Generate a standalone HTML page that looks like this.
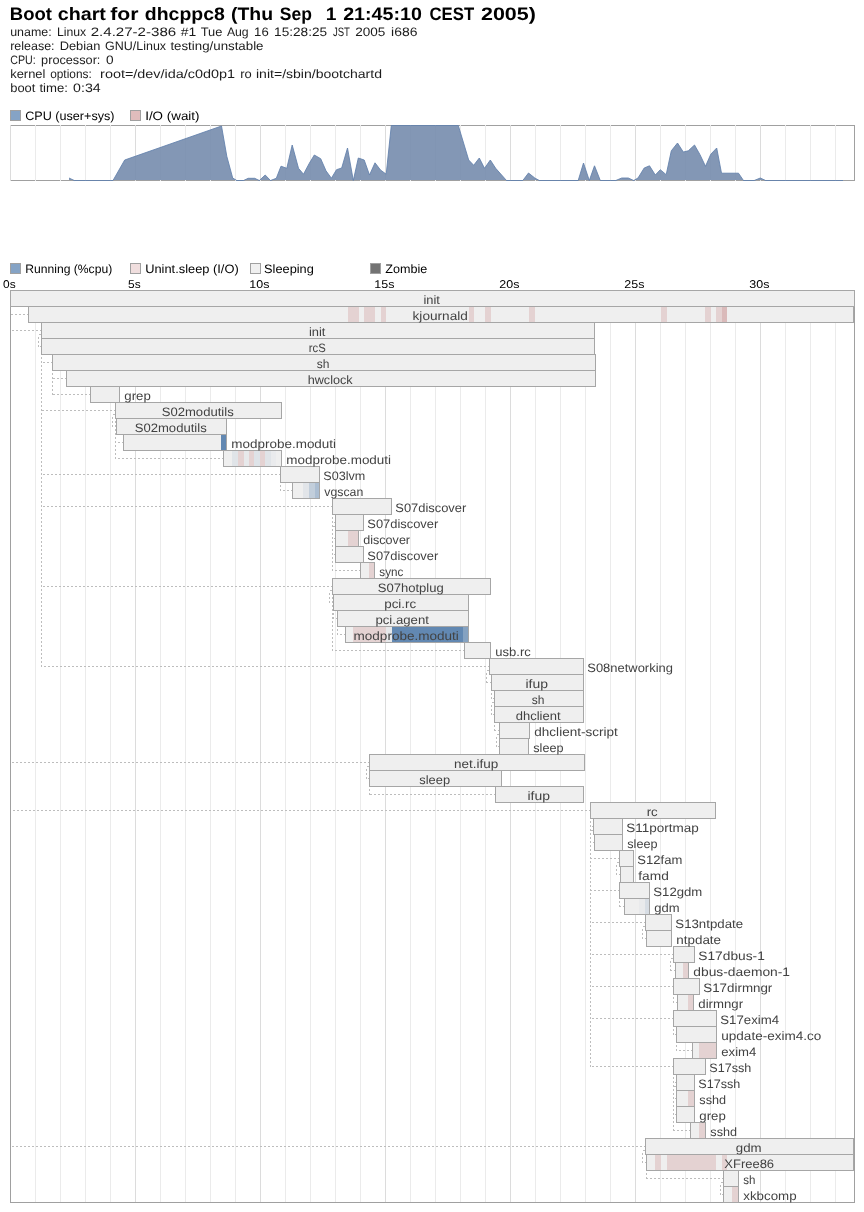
<!DOCTYPE html>
<html><head><meta charset="utf-8"><title>Boot chart</title>
<style>html,body{margin:0;padding:0;background:#fff;}svg{display:block;will-change:transform;}</style>
</head><body>
<svg width="864" height="1212" viewBox="0 0 864 1212" shape-rendering="crispEdges" text-rendering="geometricPrecision">
<rect x="0" y="0" width="864" height="1212" fill="#ffffff"/>
<text x="9.80" y="20.00" font-family='"Liberation Sans", sans-serif' font-size="18" font-weight="bold" fill="#000" text-anchor="start" textLength="42.10" lengthAdjust="spacingAndGlyphs" xml:space="preserve">Boot</text>
<text x="57.70" y="20.00" font-family='"Liberation Sans", sans-serif' font-size="18" font-weight="bold" fill="#000" text-anchor="start" textLength="48.20" lengthAdjust="spacingAndGlyphs" xml:space="preserve">chart</text>
<text x="110.30" y="20.00" font-family='"Liberation Sans", sans-serif' font-size="18" font-weight="bold" fill="#000" text-anchor="start" textLength="28.30" lengthAdjust="spacingAndGlyphs" xml:space="preserve">for</text>
<text x="144.80" y="20.00" font-family='"Liberation Sans", sans-serif' font-size="18" font-weight="bold" fill="#000" text-anchor="start" textLength="80.00" lengthAdjust="spacingAndGlyphs" xml:space="preserve">dhcppc8</text>
<text x="231.00" y="20.00" font-family='"Liberation Sans", sans-serif' font-size="18" font-weight="bold" fill="#000" text-anchor="start" textLength="42.10" lengthAdjust="spacingAndGlyphs" xml:space="preserve">(Thu</text>
<text x="279.80" y="20.00" font-family='"Liberation Sans", sans-serif' font-size="18" font-weight="bold" fill="#000" text-anchor="start" textLength="32.10" lengthAdjust="spacingAndGlyphs" xml:space="preserve">Sep</text>
<text x="325.70" y="20.00" font-family='"Liberation Sans", sans-serif' font-size="18" font-weight="bold" fill="#000" text-anchor="start" textLength="10.70" lengthAdjust="spacingAndGlyphs" xml:space="preserve">1</text>
<text x="343.20" y="20.00" font-family='"Liberation Sans", sans-serif' font-size="18" font-weight="bold" fill="#000" text-anchor="start" textLength="78.70" lengthAdjust="spacingAndGlyphs" xml:space="preserve">21:45:10</text>
<text x="429.50" y="20.00" font-family='"Liberation Sans", sans-serif' font-size="18" font-weight="bold" fill="#000" text-anchor="start" textLength="44.60" lengthAdjust="spacingAndGlyphs" xml:space="preserve">CEST</text>
<text x="481.00" y="20.00" font-family='"Liberation Sans", sans-serif' font-size="18" font-weight="bold" fill="#000" text-anchor="start" textLength="54.90" lengthAdjust="spacingAndGlyphs" xml:space="preserve">2005)</text>
<text x="10.20" y="36.00" font-family='"Liberation Sans", sans-serif' font-size="12.2" font-weight="normal" fill="#1c1c1c" text-anchor="start" textLength="41.50" lengthAdjust="spacingAndGlyphs" xml:space="preserve">uname:</text>
<text x="56.90" y="36.00" font-family='"Liberation Sans", sans-serif' font-size="12.2" font-weight="normal" fill="#1c1c1c" text-anchor="start" textLength="29.30" lengthAdjust="spacingAndGlyphs" xml:space="preserve">Linux</text>
<text x="90.70" y="36.00" font-family='"Liberation Sans", sans-serif' font-size="12.2" font-weight="normal" fill="#1c1c1c" text-anchor="start" textLength="85.50" lengthAdjust="spacingAndGlyphs" xml:space="preserve">2.4.27-2-386</text>
<text x="180.70" y="36.00" font-family='"Liberation Sans", sans-serif' font-size="12.2" font-weight="normal" fill="#1c1c1c" text-anchor="start" textLength="15.50" lengthAdjust="spacingAndGlyphs" xml:space="preserve">#1</text>
<text x="200.70" y="36.00" font-family='"Liberation Sans", sans-serif' font-size="12.2" font-weight="normal" fill="#1c1c1c" text-anchor="start" textLength="21.70" lengthAdjust="spacingAndGlyphs" xml:space="preserve">Tue</text>
<text x="226.90" y="36.00" font-family='"Liberation Sans", sans-serif' font-size="12.2" font-weight="normal" fill="#1c1c1c" text-anchor="start" textLength="21.80" lengthAdjust="spacingAndGlyphs" xml:space="preserve">Aug</text>
<text x="254.10" y="36.00" font-family='"Liberation Sans", sans-serif' font-size="12.2" font-weight="normal" fill="#1c1c1c" text-anchor="start" textLength="14.60" lengthAdjust="spacingAndGlyphs" xml:space="preserve">16</text>
<text x="274.10" y="36.00" font-family='"Liberation Sans", sans-serif' font-size="12.2" font-weight="normal" fill="#1c1c1c" text-anchor="start" textLength="53.00" lengthAdjust="spacingAndGlyphs" xml:space="preserve">15:28:25</text>
<text x="332.90" y="36.00" font-family='"Liberation Sans", sans-serif' font-size="12.2" font-weight="normal" fill="#1c1c1c" text-anchor="start" textLength="17.00" lengthAdjust="spacingAndGlyphs" xml:space="preserve">JST</text>
<text x="355.20" y="36.00" font-family='"Liberation Sans", sans-serif' font-size="12.2" font-weight="normal" fill="#1c1c1c" text-anchor="start" textLength="30.20" lengthAdjust="spacingAndGlyphs" xml:space="preserve">2005</text>
<text x="391.10" y="36.00" font-family='"Liberation Sans", sans-serif' font-size="12.2" font-weight="normal" fill="#1c1c1c" text-anchor="start" textLength="26.30" lengthAdjust="spacingAndGlyphs" xml:space="preserve">i686</text>
<text x="10.20" y="50.00" font-family='"Liberation Sans", sans-serif' font-size="12.2" font-weight="normal" fill="#1c1c1c" text-anchor="start" textLength="44.40" lengthAdjust="spacingAndGlyphs" xml:space="preserve">release:</text>
<text x="59.70" y="50.00" font-family='"Liberation Sans", sans-serif' font-size="12.2" font-weight="normal" fill="#1c1c1c" text-anchor="start" textLength="40.70" lengthAdjust="spacingAndGlyphs" xml:space="preserve">Debian</text>
<text x="105.10" y="50.00" font-family='"Liberation Sans", sans-serif' font-size="12.2" font-weight="normal" fill="#1c1c1c" text-anchor="start" textLength="61.00" lengthAdjust="spacingAndGlyphs" xml:space="preserve">GNU/Linux</text>
<text x="170.40" y="50.00" font-family='"Liberation Sans", sans-serif' font-size="12.2" font-weight="normal" fill="#1c1c1c" text-anchor="start" textLength="93.10" lengthAdjust="spacingAndGlyphs" xml:space="preserve">testing/unstable</text>
<text x="10.20" y="64.00" font-family='"Liberation Sans", sans-serif' font-size="12.2" font-weight="normal" fill="#1c1c1c" text-anchor="start" textLength="25.50" lengthAdjust="spacingAndGlyphs" xml:space="preserve">CPU:</text>
<text x="41.10" y="64.00" font-family='"Liberation Sans", sans-serif' font-size="12.2" font-weight="normal" fill="#1c1c1c" text-anchor="start" textLength="59.30" lengthAdjust="spacingAndGlyphs" xml:space="preserve">processor:</text>
<text x="106.10" y="64.00" font-family='"Liberation Sans", sans-serif' font-size="12.2" font-weight="normal" fill="#1c1c1c" text-anchor="start" textLength="7.60" lengthAdjust="spacingAndGlyphs" xml:space="preserve">0</text>
<text x="10.20" y="78.00" font-family='"Liberation Sans", sans-serif' font-size="12.2" font-weight="normal" fill="#1c1c1c" text-anchor="start" textLength="35.20" lengthAdjust="spacingAndGlyphs" xml:space="preserve">kernel</text>
<text x="50.20" y="78.00" font-family='"Liberation Sans", sans-serif' font-size="12.2" font-weight="normal" fill="#1c1c1c" text-anchor="start" textLength="41.50" lengthAdjust="spacingAndGlyphs" xml:space="preserve">options:</text>
<text x="100.10" y="78.00" font-family='"Liberation Sans", sans-serif' font-size="12.2" font-weight="normal" fill="#1c1c1c" text-anchor="start" textLength="135.00" lengthAdjust="spacingAndGlyphs" xml:space="preserve">root=/dev/ida/c0d0p1</text>
<text x="240.20" y="78.00" font-family='"Liberation Sans", sans-serif' font-size="12.2" font-weight="normal" fill="#1c1c1c" text-anchor="start" textLength="11.50" lengthAdjust="spacingAndGlyphs" xml:space="preserve">ro</text>
<text x="256.00" y="78.00" font-family='"Liberation Sans", sans-serif' font-size="12.2" font-weight="normal" fill="#1c1c1c" text-anchor="start" textLength="126.00" lengthAdjust="spacingAndGlyphs" xml:space="preserve">init=/sbin/bootchartd</text>
<text x="10.20" y="92.00" font-family='"Liberation Sans", sans-serif' font-size="12.2" font-weight="normal" fill="#1c1c1c" text-anchor="start" textLength="25.20" lengthAdjust="spacingAndGlyphs" xml:space="preserve">boot</text>
<text x="39.40" y="92.00" font-family='"Liberation Sans", sans-serif' font-size="12.2" font-weight="normal" fill="#1c1c1c" text-anchor="start" textLength="28.50" lengthAdjust="spacingAndGlyphs" xml:space="preserve">time:</text>
<text x="73.10" y="92.00" font-family='"Liberation Sans", sans-serif' font-size="12.2" font-weight="normal" fill="#1c1c1c" text-anchor="start" textLength="27.60" lengthAdjust="spacingAndGlyphs" xml:space="preserve">0:34</text>
<rect x="10.5" y="110.5" width="10" height="10" fill="#85a3c5" stroke="#a0a0a0" stroke-width="1"/>
<text x="25.20" y="119.50" font-family='"Liberation Sans", sans-serif' font-size="12.2" font-weight="normal" fill="#000" text-anchor="start" textLength="89.30" lengthAdjust="spacingAndGlyphs" xml:space="preserve">CPU (user+sys)</text>
<rect x="130.5" y="110.5" width="10" height="10" fill="#e0bcbc" stroke="#a0a0a0" stroke-width="1"/>
<text x="145.20" y="119.50" font-family='"Liberation Sans", sans-serif' font-size="12.2" font-weight="normal" fill="#000" text-anchor="start" textLength="54.30" lengthAdjust="spacingAndGlyphs" xml:space="preserve">I/O (wait)</text>
<rect x="10.5" y="125.5" width="844.0" height="55" fill="none" stroke="#a0a0a0" stroke-width="1"/>
<line x1="10.5" y1="125.0" x2="10.5" y2="181.0" stroke="#dcdcdc" stroke-width="1"/>
<line x1="35.5" y1="125.0" x2="35.5" y2="181.0" stroke="#ebebeb" stroke-width="1"/>
<line x1="60.5" y1="125.0" x2="60.5" y2="181.0" stroke="#ebebeb" stroke-width="1"/>
<line x1="85.5" y1="125.0" x2="85.5" y2="181.0" stroke="#ebebeb" stroke-width="1"/>
<line x1="110.5" y1="125.0" x2="110.5" y2="181.0" stroke="#ebebeb" stroke-width="1"/>
<line x1="135.5" y1="125.0" x2="135.5" y2="181.0" stroke="#dcdcdc" stroke-width="1"/>
<line x1="160.5" y1="125.0" x2="160.5" y2="181.0" stroke="#ebebeb" stroke-width="1"/>
<line x1="185.5" y1="125.0" x2="185.5" y2="181.0" stroke="#ebebeb" stroke-width="1"/>
<line x1="210.5" y1="125.0" x2="210.5" y2="181.0" stroke="#ebebeb" stroke-width="1"/>
<line x1="235.5" y1="125.0" x2="235.5" y2="181.0" stroke="#ebebeb" stroke-width="1"/>
<line x1="260.5" y1="125.0" x2="260.5" y2="181.0" stroke="#dcdcdc" stroke-width="1"/>
<line x1="285.5" y1="125.0" x2="285.5" y2="181.0" stroke="#ebebeb" stroke-width="1"/>
<line x1="310.5" y1="125.0" x2="310.5" y2="181.0" stroke="#ebebeb" stroke-width="1"/>
<line x1="335.5" y1="125.0" x2="335.5" y2="181.0" stroke="#ebebeb" stroke-width="1"/>
<line x1="360.5" y1="125.0" x2="360.5" y2="181.0" stroke="#ebebeb" stroke-width="1"/>
<line x1="385.5" y1="125.0" x2="385.5" y2="181.0" stroke="#dcdcdc" stroke-width="1"/>
<line x1="410.5" y1="125.0" x2="410.5" y2="181.0" stroke="#ebebeb" stroke-width="1"/>
<line x1="435.5" y1="125.0" x2="435.5" y2="181.0" stroke="#ebebeb" stroke-width="1"/>
<line x1="460.5" y1="125.0" x2="460.5" y2="181.0" stroke="#ebebeb" stroke-width="1"/>
<line x1="485.5" y1="125.0" x2="485.5" y2="181.0" stroke="#ebebeb" stroke-width="1"/>
<line x1="510.5" y1="125.0" x2="510.5" y2="181.0" stroke="#dcdcdc" stroke-width="1"/>
<line x1="535.5" y1="125.0" x2="535.5" y2="181.0" stroke="#ebebeb" stroke-width="1"/>
<line x1="560.5" y1="125.0" x2="560.5" y2="181.0" stroke="#ebebeb" stroke-width="1"/>
<line x1="585.5" y1="125.0" x2="585.5" y2="181.0" stroke="#ebebeb" stroke-width="1"/>
<line x1="610.5" y1="125.0" x2="610.5" y2="181.0" stroke="#ebebeb" stroke-width="1"/>
<line x1="635.5" y1="125.0" x2="635.5" y2="181.0" stroke="#dcdcdc" stroke-width="1"/>
<line x1="660.5" y1="125.0" x2="660.5" y2="181.0" stroke="#ebebeb" stroke-width="1"/>
<line x1="685.5" y1="125.0" x2="685.5" y2="181.0" stroke="#ebebeb" stroke-width="1"/>
<line x1="710.5" y1="125.0" x2="710.5" y2="181.0" stroke="#ebebeb" stroke-width="1"/>
<line x1="735.5" y1="125.0" x2="735.5" y2="181.0" stroke="#ebebeb" stroke-width="1"/>
<line x1="760.5" y1="125.0" x2="760.5" y2="181.0" stroke="#dcdcdc" stroke-width="1"/>
<line x1="785.5" y1="125.0" x2="785.5" y2="181.0" stroke="#ebebeb" stroke-width="1"/>
<line x1="810.5" y1="125.0" x2="810.5" y2="181.0" stroke="#ebebeb" stroke-width="1"/>
<line x1="835.5" y1="125.0" x2="835.5" y2="181.0" stroke="#ebebeb" stroke-width="1"/>
<polygon shape-rendering="geometricPrecision" fill="rgba(117,140,173,0.9)" points="69.0,180.0 69.0,178.0 74.3,180.5 113.0,180.5 124.7,160.0 221.5,126.0 226.8,156.3 232.7,178.0 236.8,180.5 243.5,180.5 248.2,178.3 254.7,178.3 259.3,180.5 265.2,175.0 270.5,180.5 276.3,178.3 281.0,166.2 286.8,168.3 292.2,145.0 298.5,168.3 303.5,174.2 309.3,163.3 314.3,155.0 320.7,158.7 326.0,170.8 331.4,178.2 336.5,169.7 341.7,168.0 347.5,148.0 353.3,180.5 358.3,158.0 364.2,160.0 369.5,175.0 375.0,162.8 380.5,170.0 386.2,174.2 391.3,125.5 458.3,125.5 468.7,160.0 473.7,165.3 479.3,158.0 484.5,168.3 490.3,160.0 495.7,168.3 506.5,180.5 522.8,180.5 528.5,173.0 534.8,178.0 539.3,180.5 578.2,180.5 583.5,163.0 589.3,180.5 594.5,165.8 600.3,180.5 615.8,180.5 621.7,178.0 628.3,178.0 633.7,180.5 638.0,178.0 644.2,168.0 649.5,165.8 655.3,175.0 660.3,169.7 666.2,174.7 671.3,150.8 677.5,143.0 683.3,152.0 688.3,150.8 694.5,145.0 700.0,154.7 705.5,166.3 710.8,154.2 716.7,148.0 721.5,173.2 738.5,173.2 743.5,180.5 754.2,180.5 760.3,178.0 765.6,180.5 843.0,180.5 843.0,180.0"/>
<polyline shape-rendering="geometricPrecision" fill="none" stroke="rgba(98,128,172,0.85)" stroke-width="1" stroke-linejoin="round" points="69.0,178.0 74.3,180.5 113.0,180.5 124.7,160.0 221.5,126.0 226.8,156.3 232.7,178.0 236.8,180.5 243.5,180.5 248.2,178.3 254.7,178.3 259.3,180.5 265.2,175.0 270.5,180.5 276.3,178.3 281.0,166.2 286.8,168.3 292.2,145.0 298.5,168.3 303.5,174.2 309.3,163.3 314.3,155.0 320.7,158.7 326.0,170.8 331.4,178.2 336.5,169.7 341.7,168.0 347.5,148.0 353.3,180.5 358.3,158.0 364.2,160.0 369.5,175.0 375.0,162.8 380.5,170.0 386.2,174.2 391.3,125.5 458.3,125.5 468.7,160.0 473.7,165.3 479.3,158.0 484.5,168.3 490.3,160.0 495.7,168.3 506.5,180.5 522.8,180.5 528.5,173.0 534.8,178.0 539.3,180.5 578.2,180.5 583.5,163.0 589.3,180.5 594.5,165.8 600.3,180.5 615.8,180.5 621.7,178.0 628.3,178.0 633.7,180.5 638.0,178.0 644.2,168.0 649.5,165.8 655.3,175.0 660.3,169.7 666.2,174.7 671.3,150.8 677.5,143.0 683.3,152.0 688.3,150.8 694.5,145.0 700.0,154.7 705.5,166.3 710.8,154.2 716.7,148.0 721.5,173.2 738.5,173.2 743.5,180.5 754.2,180.5 760.3,178.0 765.6,180.5 843.0,180.5"/>
<rect x="10.5" y="263.5" width="10" height="10" fill="#85a3c5" stroke="#a0a0a0" stroke-width="1"/>
<text x="25.20" y="272.50" font-family='"Liberation Sans", sans-serif' font-size="12.2" font-weight="normal" fill="#000" text-anchor="start" textLength="87.00" lengthAdjust="spacingAndGlyphs" xml:space="preserve">Running (%cpu)</text>
<rect x="130.5" y="263.5" width="10" height="10" fill="#f0dede" stroke="#a0a0a0" stroke-width="1"/>
<text x="145.20" y="272.50" font-family='"Liberation Sans", sans-serif' font-size="12.2" font-weight="normal" fill="#000" text-anchor="start" textLength="93.50" lengthAdjust="spacingAndGlyphs" xml:space="preserve">Unint.sleep (I/O)</text>
<rect x="250.5" y="263.5" width="10" height="10" fill="#f0f0f0" stroke="#a0a0a0" stroke-width="1"/>
<text x="264.10" y="272.50" font-family='"Liberation Sans", sans-serif' font-size="12.2" font-weight="normal" fill="#000" text-anchor="start" textLength="49.70" lengthAdjust="spacingAndGlyphs" xml:space="preserve">Sleeping</text>
<rect x="370.5" y="263.5" width="10" height="10" fill="#737373" stroke="#a0a0a0" stroke-width="1"/>
<text x="385.20" y="272.50" font-family='"Liberation Sans", sans-serif' font-size="12.2" font-weight="normal" fill="#000" text-anchor="start" textLength="42.00" lengthAdjust="spacingAndGlyphs" xml:space="preserve">Zombie</text>
<text x="9.40" y="287.50" font-family='"Liberation Sans", sans-serif' font-size="11.3" font-weight="normal" fill="#000" text-anchor="middle" textLength="12.60" lengthAdjust="spacingAndGlyphs" xml:space="preserve">0s</text>
<text x="134.40" y="287.50" font-family='"Liberation Sans", sans-serif' font-size="11.3" font-weight="normal" fill="#000" text-anchor="middle" textLength="12.60" lengthAdjust="spacingAndGlyphs" xml:space="preserve">5s</text>
<text x="259.40" y="287.50" font-family='"Liberation Sans", sans-serif' font-size="11.3" font-weight="normal" fill="#000" text-anchor="middle" textLength="20.10" lengthAdjust="spacingAndGlyphs" xml:space="preserve">10s</text>
<text x="384.40" y="287.50" font-family='"Liberation Sans", sans-serif' font-size="11.3" font-weight="normal" fill="#000" text-anchor="middle" textLength="20.10" lengthAdjust="spacingAndGlyphs" xml:space="preserve">15s</text>
<text x="509.40" y="287.50" font-family='"Liberation Sans", sans-serif' font-size="11.3" font-weight="normal" fill="#000" text-anchor="middle" textLength="20.10" lengthAdjust="spacingAndGlyphs" xml:space="preserve">20s</text>
<text x="634.40" y="287.50" font-family='"Liberation Sans", sans-serif' font-size="11.3" font-weight="normal" fill="#000" text-anchor="middle" textLength="20.10" lengthAdjust="spacingAndGlyphs" xml:space="preserve">25s</text>
<text x="759.40" y="287.50" font-family='"Liberation Sans", sans-serif' font-size="11.3" font-weight="normal" fill="#000" text-anchor="middle" textLength="20.10" lengthAdjust="spacingAndGlyphs" xml:space="preserve">30s</text>
<line x1="35.5" y1="290.5" x2="35.5" y2="1202.5" stroke="#ebebeb" stroke-width="1"/>
<line x1="60.5" y1="290.5" x2="60.5" y2="1202.5" stroke="#ebebeb" stroke-width="1"/>
<line x1="85.5" y1="290.5" x2="85.5" y2="1202.5" stroke="#ebebeb" stroke-width="1"/>
<line x1="110.5" y1="290.5" x2="110.5" y2="1202.5" stroke="#ebebeb" stroke-width="1"/>
<line x1="135.5" y1="290.5" x2="135.5" y2="1202.5" stroke="#dcdcdc" stroke-width="1"/>
<line x1="160.5" y1="290.5" x2="160.5" y2="1202.5" stroke="#ebebeb" stroke-width="1"/>
<line x1="185.5" y1="290.5" x2="185.5" y2="1202.5" stroke="#ebebeb" stroke-width="1"/>
<line x1="210.5" y1="290.5" x2="210.5" y2="1202.5" stroke="#ebebeb" stroke-width="1"/>
<line x1="235.5" y1="290.5" x2="235.5" y2="1202.5" stroke="#ebebeb" stroke-width="1"/>
<line x1="260.5" y1="290.5" x2="260.5" y2="1202.5" stroke="#dcdcdc" stroke-width="1"/>
<line x1="285.5" y1="290.5" x2="285.5" y2="1202.5" stroke="#ebebeb" stroke-width="1"/>
<line x1="310.5" y1="290.5" x2="310.5" y2="1202.5" stroke="#ebebeb" stroke-width="1"/>
<line x1="335.5" y1="290.5" x2="335.5" y2="1202.5" stroke="#ebebeb" stroke-width="1"/>
<line x1="360.5" y1="290.5" x2="360.5" y2="1202.5" stroke="#ebebeb" stroke-width="1"/>
<line x1="385.5" y1="290.5" x2="385.5" y2="1202.5" stroke="#dcdcdc" stroke-width="1"/>
<line x1="410.5" y1="290.5" x2="410.5" y2="1202.5" stroke="#ebebeb" stroke-width="1"/>
<line x1="435.5" y1="290.5" x2="435.5" y2="1202.5" stroke="#ebebeb" stroke-width="1"/>
<line x1="460.5" y1="290.5" x2="460.5" y2="1202.5" stroke="#ebebeb" stroke-width="1"/>
<line x1="485.5" y1="290.5" x2="485.5" y2="1202.5" stroke="#ebebeb" stroke-width="1"/>
<line x1="510.5" y1="290.5" x2="510.5" y2="1202.5" stroke="#dcdcdc" stroke-width="1"/>
<line x1="535.5" y1="290.5" x2="535.5" y2="1202.5" stroke="#ebebeb" stroke-width="1"/>
<line x1="560.5" y1="290.5" x2="560.5" y2="1202.5" stroke="#ebebeb" stroke-width="1"/>
<line x1="585.5" y1="290.5" x2="585.5" y2="1202.5" stroke="#ebebeb" stroke-width="1"/>
<line x1="610.5" y1="290.5" x2="610.5" y2="1202.5" stroke="#ebebeb" stroke-width="1"/>
<line x1="635.5" y1="290.5" x2="635.5" y2="1202.5" stroke="#dcdcdc" stroke-width="1"/>
<line x1="660.5" y1="290.5" x2="660.5" y2="1202.5" stroke="#ebebeb" stroke-width="1"/>
<line x1="685.5" y1="290.5" x2="685.5" y2="1202.5" stroke="#ebebeb" stroke-width="1"/>
<line x1="710.5" y1="290.5" x2="710.5" y2="1202.5" stroke="#ebebeb" stroke-width="1"/>
<line x1="735.5" y1="290.5" x2="735.5" y2="1202.5" stroke="#ebebeb" stroke-width="1"/>
<line x1="760.5" y1="290.5" x2="760.5" y2="1202.5" stroke="#dcdcdc" stroke-width="1"/>
<line x1="785.5" y1="290.5" x2="785.5" y2="1202.5" stroke="#ebebeb" stroke-width="1"/>
<line x1="810.5" y1="290.5" x2="810.5" y2="1202.5" stroke="#ebebeb" stroke-width="1"/>
<line x1="835.5" y1="290.5" x2="835.5" y2="1202.5" stroke="#ebebeb" stroke-width="1"/>
<line x1="28.5" y1="314.5" x2="10.5" y2="314.5" stroke="#bdbdbd" stroke-width="1" stroke-dasharray="2,2"/>
<line x1="10.5" y1="314.5" x2="10.5" y2="306.5" stroke="#bdbdbd" stroke-width="1" stroke-dasharray="2,2"/>
<line x1="41.5" y1="330.5" x2="10.5" y2="330.5" stroke="#bdbdbd" stroke-width="1" stroke-dasharray="2,2"/>
<line x1="10.5" y1="330.5" x2="10.5" y2="306.5" stroke="#bdbdbd" stroke-width="1" stroke-dasharray="2,2"/>
<line x1="41.5" y1="346.5" x2="38.5" y2="346.5" stroke="#bdbdbd" stroke-width="1" stroke-dasharray="2,2"/>
<line x1="38.5" y1="346.5" x2="38.5" y2="334.5" stroke="#bdbdbd" stroke-width="1" stroke-dasharray="2,2"/>
<line x1="38.5" y1="334.5" x2="41.5" y2="334.5" stroke="#bdbdbd" stroke-width="1" stroke-dasharray="2,2"/>
<line x1="52.5" y1="362.5" x2="41.5" y2="362.5" stroke="#bdbdbd" stroke-width="1" stroke-dasharray="2,2"/>
<line x1="41.5" y1="362.5" x2="41.5" y2="354.5" stroke="#bdbdbd" stroke-width="1" stroke-dasharray="2,2"/>
<line x1="66.5" y1="378.5" x2="52.5" y2="378.5" stroke="#bdbdbd" stroke-width="1" stroke-dasharray="2,2"/>
<line x1="52.5" y1="378.5" x2="52.5" y2="370.5" stroke="#bdbdbd" stroke-width="1" stroke-dasharray="2,2"/>
<line x1="90.5" y1="394.5" x2="52.5" y2="394.5" stroke="#bdbdbd" stroke-width="1" stroke-dasharray="2,2"/>
<line x1="52.5" y1="394.5" x2="52.5" y2="370.5" stroke="#bdbdbd" stroke-width="1" stroke-dasharray="2,2"/>
<line x1="115.5" y1="410.5" x2="41.5" y2="410.5" stroke="#bdbdbd" stroke-width="1" stroke-dasharray="2,2"/>
<line x1="41.5" y1="410.5" x2="41.5" y2="354.5" stroke="#bdbdbd" stroke-width="1" stroke-dasharray="2,2"/>
<line x1="116.5" y1="426.5" x2="112.5" y2="426.5" stroke="#bdbdbd" stroke-width="1" stroke-dasharray="2,2"/>
<line x1="112.5" y1="426.5" x2="112.5" y2="414.5" stroke="#bdbdbd" stroke-width="1" stroke-dasharray="2,2"/>
<line x1="112.5" y1="414.5" x2="115.5" y2="414.5" stroke="#bdbdbd" stroke-width="1" stroke-dasharray="2,2"/>
<line x1="123.5" y1="442.5" x2="115.5" y2="442.5" stroke="#bdbdbd" stroke-width="1" stroke-dasharray="2,2"/>
<line x1="115.5" y1="442.5" x2="115.5" y2="418.5" stroke="#bdbdbd" stroke-width="1" stroke-dasharray="2,2"/>
<line x1="223.5" y1="458.5" x2="115.5" y2="458.5" stroke="#bdbdbd" stroke-width="1" stroke-dasharray="2,2"/>
<line x1="115.5" y1="458.5" x2="115.5" y2="418.5" stroke="#bdbdbd" stroke-width="1" stroke-dasharray="2,2"/>
<line x1="280.5" y1="474.5" x2="41.5" y2="474.5" stroke="#bdbdbd" stroke-width="1" stroke-dasharray="2,2"/>
<line x1="41.5" y1="474.5" x2="41.5" y2="354.5" stroke="#bdbdbd" stroke-width="1" stroke-dasharray="2,2"/>
<line x1="292.5" y1="490.5" x2="280.5" y2="490.5" stroke="#bdbdbd" stroke-width="1" stroke-dasharray="2,2"/>
<line x1="280.5" y1="490.5" x2="280.5" y2="482.5" stroke="#bdbdbd" stroke-width="1" stroke-dasharray="2,2"/>
<line x1="332.5" y1="506.5" x2="41.5" y2="506.5" stroke="#bdbdbd" stroke-width="1" stroke-dasharray="2,2"/>
<line x1="41.5" y1="506.5" x2="41.5" y2="354.5" stroke="#bdbdbd" stroke-width="1" stroke-dasharray="2,2"/>
<line x1="335.5" y1="522.5" x2="332.5" y2="522.5" stroke="#bdbdbd" stroke-width="1" stroke-dasharray="2,2"/>
<line x1="332.5" y1="522.5" x2="332.5" y2="514.5" stroke="#bdbdbd" stroke-width="1" stroke-dasharray="2,2"/>
<line x1="335.5" y1="538.5" x2="332.5" y2="538.5" stroke="#bdbdbd" stroke-width="1" stroke-dasharray="2,2"/>
<line x1="332.5" y1="538.5" x2="332.5" y2="526.5" stroke="#bdbdbd" stroke-width="1" stroke-dasharray="2,2"/>
<line x1="332.5" y1="526.5" x2="335.5" y2="526.5" stroke="#bdbdbd" stroke-width="1" stroke-dasharray="2,2"/>
<line x1="335.5" y1="554.5" x2="332.5" y2="554.5" stroke="#bdbdbd" stroke-width="1" stroke-dasharray="2,2"/>
<line x1="332.5" y1="554.5" x2="332.5" y2="514.5" stroke="#bdbdbd" stroke-width="1" stroke-dasharray="2,2"/>
<line x1="360.5" y1="570.5" x2="332.5" y2="570.5" stroke="#bdbdbd" stroke-width="1" stroke-dasharray="2,2"/>
<line x1="332.5" y1="570.5" x2="332.5" y2="514.5" stroke="#bdbdbd" stroke-width="1" stroke-dasharray="2,2"/>
<line x1="332.5" y1="586.5" x2="41.5" y2="586.5" stroke="#bdbdbd" stroke-width="1" stroke-dasharray="2,2"/>
<line x1="41.5" y1="586.5" x2="41.5" y2="354.5" stroke="#bdbdbd" stroke-width="1" stroke-dasharray="2,2"/>
<line x1="333.5" y1="602.5" x2="329.5" y2="602.5" stroke="#bdbdbd" stroke-width="1" stroke-dasharray="2,2"/>
<line x1="329.5" y1="602.5" x2="329.5" y2="590.5" stroke="#bdbdbd" stroke-width="1" stroke-dasharray="2,2"/>
<line x1="329.5" y1="590.5" x2="332.5" y2="590.5" stroke="#bdbdbd" stroke-width="1" stroke-dasharray="2,2"/>
<line x1="337.5" y1="618.5" x2="333.5" y2="618.5" stroke="#bdbdbd" stroke-width="1" stroke-dasharray="2,2"/>
<line x1="333.5" y1="618.5" x2="333.5" y2="610.5" stroke="#bdbdbd" stroke-width="1" stroke-dasharray="2,2"/>
<line x1="345.5" y1="634.5" x2="337.5" y2="634.5" stroke="#bdbdbd" stroke-width="1" stroke-dasharray="2,2"/>
<line x1="337.5" y1="634.5" x2="337.5" y2="626.5" stroke="#bdbdbd" stroke-width="1" stroke-dasharray="2,2"/>
<line x1="464.5" y1="650.5" x2="332.5" y2="650.5" stroke="#bdbdbd" stroke-width="1" stroke-dasharray="2,2"/>
<line x1="332.5" y1="650.5" x2="332.5" y2="594.5" stroke="#bdbdbd" stroke-width="1" stroke-dasharray="2,2"/>
<line x1="489.5" y1="666.5" x2="41.5" y2="666.5" stroke="#bdbdbd" stroke-width="1" stroke-dasharray="2,2"/>
<line x1="41.5" y1="666.5" x2="41.5" y2="354.5" stroke="#bdbdbd" stroke-width="1" stroke-dasharray="2,2"/>
<line x1="491.5" y1="682.5" x2="486.5" y2="682.5" stroke="#bdbdbd" stroke-width="1" stroke-dasharray="2,2"/>
<line x1="486.5" y1="682.5" x2="486.5" y2="670.5" stroke="#bdbdbd" stroke-width="1" stroke-dasharray="2,2"/>
<line x1="486.5" y1="670.5" x2="489.5" y2="670.5" stroke="#bdbdbd" stroke-width="1" stroke-dasharray="2,2"/>
<line x1="494.5" y1="698.5" x2="491.5" y2="698.5" stroke="#bdbdbd" stroke-width="1" stroke-dasharray="2,2"/>
<line x1="491.5" y1="698.5" x2="491.5" y2="690.5" stroke="#bdbdbd" stroke-width="1" stroke-dasharray="2,2"/>
<line x1="494.5" y1="714.5" x2="491.5" y2="714.5" stroke="#bdbdbd" stroke-width="1" stroke-dasharray="2,2"/>
<line x1="491.5" y1="714.5" x2="491.5" y2="702.5" stroke="#bdbdbd" stroke-width="1" stroke-dasharray="2,2"/>
<line x1="491.5" y1="702.5" x2="494.5" y2="702.5" stroke="#bdbdbd" stroke-width="1" stroke-dasharray="2,2"/>
<line x1="499.5" y1="730.5" x2="494.5" y2="730.5" stroke="#bdbdbd" stroke-width="1" stroke-dasharray="2,2"/>
<line x1="494.5" y1="730.5" x2="494.5" y2="722.5" stroke="#bdbdbd" stroke-width="1" stroke-dasharray="2,2"/>
<line x1="499.5" y1="746.5" x2="496.5" y2="746.5" stroke="#bdbdbd" stroke-width="1" stroke-dasharray="2,2"/>
<line x1="496.5" y1="746.5" x2="496.5" y2="734.5" stroke="#bdbdbd" stroke-width="1" stroke-dasharray="2,2"/>
<line x1="496.5" y1="734.5" x2="499.5" y2="734.5" stroke="#bdbdbd" stroke-width="1" stroke-dasharray="2,2"/>
<line x1="369.5" y1="762.5" x2="10.5" y2="762.5" stroke="#bdbdbd" stroke-width="1" stroke-dasharray="2,2"/>
<line x1="10.5" y1="762.5" x2="10.5" y2="306.5" stroke="#bdbdbd" stroke-width="1" stroke-dasharray="2,2"/>
<line x1="369.5" y1="778.5" x2="366.5" y2="778.5" stroke="#bdbdbd" stroke-width="1" stroke-dasharray="2,2"/>
<line x1="366.5" y1="778.5" x2="366.5" y2="766.5" stroke="#bdbdbd" stroke-width="1" stroke-dasharray="2,2"/>
<line x1="366.5" y1="766.5" x2="369.5" y2="766.5" stroke="#bdbdbd" stroke-width="1" stroke-dasharray="2,2"/>
<line x1="495.5" y1="794.5" x2="369.5" y2="794.5" stroke="#bdbdbd" stroke-width="1" stroke-dasharray="2,2"/>
<line x1="369.5" y1="794.5" x2="369.5" y2="770.5" stroke="#bdbdbd" stroke-width="1" stroke-dasharray="2,2"/>
<line x1="590.5" y1="810.5" x2="10.5" y2="810.5" stroke="#bdbdbd" stroke-width="1" stroke-dasharray="2,2"/>
<line x1="10.5" y1="810.5" x2="10.5" y2="306.5" stroke="#bdbdbd" stroke-width="1" stroke-dasharray="2,2"/>
<line x1="593.5" y1="826.5" x2="590.5" y2="826.5" stroke="#bdbdbd" stroke-width="1" stroke-dasharray="2,2"/>
<line x1="590.5" y1="826.5" x2="590.5" y2="818.5" stroke="#bdbdbd" stroke-width="1" stroke-dasharray="2,2"/>
<line x1="594.5" y1="842.5" x2="590.5" y2="842.5" stroke="#bdbdbd" stroke-width="1" stroke-dasharray="2,2"/>
<line x1="590.5" y1="842.5" x2="590.5" y2="830.5" stroke="#bdbdbd" stroke-width="1" stroke-dasharray="2,2"/>
<line x1="590.5" y1="830.5" x2="593.5" y2="830.5" stroke="#bdbdbd" stroke-width="1" stroke-dasharray="2,2"/>
<line x1="619.5" y1="858.5" x2="590.5" y2="858.5" stroke="#bdbdbd" stroke-width="1" stroke-dasharray="2,2"/>
<line x1="590.5" y1="858.5" x2="590.5" y2="818.5" stroke="#bdbdbd" stroke-width="1" stroke-dasharray="2,2"/>
<line x1="620.5" y1="874.5" x2="616.5" y2="874.5" stroke="#bdbdbd" stroke-width="1" stroke-dasharray="2,2"/>
<line x1="616.5" y1="874.5" x2="616.5" y2="862.5" stroke="#bdbdbd" stroke-width="1" stroke-dasharray="2,2"/>
<line x1="616.5" y1="862.5" x2="619.5" y2="862.5" stroke="#bdbdbd" stroke-width="1" stroke-dasharray="2,2"/>
<line x1="619.5" y1="890.5" x2="590.5" y2="890.5" stroke="#bdbdbd" stroke-width="1" stroke-dasharray="2,2"/>
<line x1="590.5" y1="890.5" x2="590.5" y2="818.5" stroke="#bdbdbd" stroke-width="1" stroke-dasharray="2,2"/>
<line x1="624.5" y1="906.5" x2="619.5" y2="906.5" stroke="#bdbdbd" stroke-width="1" stroke-dasharray="2,2"/>
<line x1="619.5" y1="906.5" x2="619.5" y2="898.5" stroke="#bdbdbd" stroke-width="1" stroke-dasharray="2,2"/>
<line x1="645.5" y1="922.5" x2="590.5" y2="922.5" stroke="#bdbdbd" stroke-width="1" stroke-dasharray="2,2"/>
<line x1="590.5" y1="922.5" x2="590.5" y2="818.5" stroke="#bdbdbd" stroke-width="1" stroke-dasharray="2,2"/>
<line x1="646.5" y1="938.5" x2="642.5" y2="938.5" stroke="#bdbdbd" stroke-width="1" stroke-dasharray="2,2"/>
<line x1="642.5" y1="938.5" x2="642.5" y2="926.5" stroke="#bdbdbd" stroke-width="1" stroke-dasharray="2,2"/>
<line x1="642.5" y1="926.5" x2="645.5" y2="926.5" stroke="#bdbdbd" stroke-width="1" stroke-dasharray="2,2"/>
<line x1="673.5" y1="954.5" x2="590.5" y2="954.5" stroke="#bdbdbd" stroke-width="1" stroke-dasharray="2,2"/>
<line x1="590.5" y1="954.5" x2="590.5" y2="818.5" stroke="#bdbdbd" stroke-width="1" stroke-dasharray="2,2"/>
<line x1="675.5" y1="970.5" x2="670.5" y2="970.5" stroke="#bdbdbd" stroke-width="1" stroke-dasharray="2,2"/>
<line x1="670.5" y1="970.5" x2="670.5" y2="958.5" stroke="#bdbdbd" stroke-width="1" stroke-dasharray="2,2"/>
<line x1="670.5" y1="958.5" x2="673.5" y2="958.5" stroke="#bdbdbd" stroke-width="1" stroke-dasharray="2,2"/>
<line x1="673.5" y1="986.5" x2="590.5" y2="986.5" stroke="#bdbdbd" stroke-width="1" stroke-dasharray="2,2"/>
<line x1="590.5" y1="986.5" x2="590.5" y2="818.5" stroke="#bdbdbd" stroke-width="1" stroke-dasharray="2,2"/>
<line x1="677.5" y1="1002.5" x2="673.5" y2="1002.5" stroke="#bdbdbd" stroke-width="1" stroke-dasharray="2,2"/>
<line x1="673.5" y1="1002.5" x2="673.5" y2="994.5" stroke="#bdbdbd" stroke-width="1" stroke-dasharray="2,2"/>
<line x1="673.5" y1="1018.5" x2="590.5" y2="1018.5" stroke="#bdbdbd" stroke-width="1" stroke-dasharray="2,2"/>
<line x1="590.5" y1="1018.5" x2="590.5" y2="818.5" stroke="#bdbdbd" stroke-width="1" stroke-dasharray="2,2"/>
<line x1="676.5" y1="1034.5" x2="673.5" y2="1034.5" stroke="#bdbdbd" stroke-width="1" stroke-dasharray="2,2"/>
<line x1="673.5" y1="1034.5" x2="673.5" y2="1026.5" stroke="#bdbdbd" stroke-width="1" stroke-dasharray="2,2"/>
<line x1="692.5" y1="1050.5" x2="676.5" y2="1050.5" stroke="#bdbdbd" stroke-width="1" stroke-dasharray="2,2"/>
<line x1="676.5" y1="1050.5" x2="676.5" y2="1042.5" stroke="#bdbdbd" stroke-width="1" stroke-dasharray="2,2"/>
<line x1="673.5" y1="1066.5" x2="590.5" y2="1066.5" stroke="#bdbdbd" stroke-width="1" stroke-dasharray="2,2"/>
<line x1="590.5" y1="1066.5" x2="590.5" y2="818.5" stroke="#bdbdbd" stroke-width="1" stroke-dasharray="2,2"/>
<line x1="676.5" y1="1082.5" x2="673.5" y2="1082.5" stroke="#bdbdbd" stroke-width="1" stroke-dasharray="2,2"/>
<line x1="673.5" y1="1082.5" x2="673.5" y2="1074.5" stroke="#bdbdbd" stroke-width="1" stroke-dasharray="2,2"/>
<line x1="676.5" y1="1098.5" x2="673.5" y2="1098.5" stroke="#bdbdbd" stroke-width="1" stroke-dasharray="2,2"/>
<line x1="673.5" y1="1098.5" x2="673.5" y2="1086.5" stroke="#bdbdbd" stroke-width="1" stroke-dasharray="2,2"/>
<line x1="673.5" y1="1086.5" x2="676.5" y2="1086.5" stroke="#bdbdbd" stroke-width="1" stroke-dasharray="2,2"/>
<line x1="676.5" y1="1114.5" x2="673.5" y2="1114.5" stroke="#bdbdbd" stroke-width="1" stroke-dasharray="2,2"/>
<line x1="673.5" y1="1114.5" x2="673.5" y2="1086.5" stroke="#bdbdbd" stroke-width="1" stroke-dasharray="2,2"/>
<line x1="673.5" y1="1086.5" x2="676.5" y2="1086.5" stroke="#bdbdbd" stroke-width="1" stroke-dasharray="2,2"/>
<line x1="690.5" y1="1130.5" x2="673.5" y2="1130.5" stroke="#bdbdbd" stroke-width="1" stroke-dasharray="2,2"/>
<line x1="673.5" y1="1130.5" x2="673.5" y2="1074.5" stroke="#bdbdbd" stroke-width="1" stroke-dasharray="2,2"/>
<line x1="645.5" y1="1146.5" x2="10.5" y2="1146.5" stroke="#bdbdbd" stroke-width="1" stroke-dasharray="2,2"/>
<line x1="10.5" y1="1146.5" x2="10.5" y2="306.5" stroke="#bdbdbd" stroke-width="1" stroke-dasharray="2,2"/>
<line x1="646.5" y1="1162.5" x2="642.5" y2="1162.5" stroke="#bdbdbd" stroke-width="1" stroke-dasharray="2,2"/>
<line x1="642.5" y1="1162.5" x2="642.5" y2="1150.5" stroke="#bdbdbd" stroke-width="1" stroke-dasharray="2,2"/>
<line x1="642.5" y1="1150.5" x2="645.5" y2="1150.5" stroke="#bdbdbd" stroke-width="1" stroke-dasharray="2,2"/>
<line x1="723.5" y1="1178.5" x2="646.5" y2="1178.5" stroke="#bdbdbd" stroke-width="1" stroke-dasharray="2,2"/>
<line x1="646.5" y1="1178.5" x2="646.5" y2="1170.5" stroke="#bdbdbd" stroke-width="1" stroke-dasharray="2,2"/>
<line x1="723.5" y1="1194.5" x2="720.5" y2="1194.5" stroke="#bdbdbd" stroke-width="1" stroke-dasharray="2,2"/>
<line x1="720.5" y1="1194.5" x2="720.5" y2="1182.5" stroke="#bdbdbd" stroke-width="1" stroke-dasharray="2,2"/>
<line x1="720.5" y1="1182.5" x2="723.5" y2="1182.5" stroke="#bdbdbd" stroke-width="1" stroke-dasharray="2,2"/>
<rect x="10.5" y="290.5" width="844.0" height="912.0" fill="none" stroke="#a0a0a0" stroke-width="1"/>
<rect x="10.5" y="290.5" width="844.0" height="16" fill="#efefef" stroke="none"/>
<rect x="10.5" y="290.5" width="844.0" height="16" fill="none" stroke="#a6a6a6" stroke-width="1"/>
<rect x="28.5" y="306.5" width="825.0" height="16" fill="#efefef" stroke="none"/>
<rect x="348.0" y="306.5" width="11.0" height="16" fill="rgba(194,122,122,0.25)"/>
<rect x="364.0" y="306.5" width="11.0" height="16" fill="rgba(194,122,122,0.25)"/>
<rect x="381.0" y="306.5" width="5.0" height="16" fill="rgba(194,122,122,0.25)"/>
<rect x="469.0" y="306.5" width="5.0" height="16" fill="rgba(194,122,122,0.25)"/>
<rect x="485.0" y="306.5" width="6.0" height="16" fill="rgba(194,122,122,0.25)"/>
<rect x="529.0" y="306.5" width="6.0" height="16" fill="rgba(194,122,122,0.25)"/>
<rect x="661.0" y="306.5" width="6.0" height="16" fill="rgba(194,122,122,0.25)"/>
<rect x="705.0" y="306.5" width="6.0" height="16" fill="rgba(194,122,122,0.25)"/>
<rect x="716.0" y="306.5" width="6.0" height="16" fill="rgba(194,122,122,0.25)"/>
<rect x="722.0" y="306.5" width="5.0" height="16" fill="rgba(194,122,122,0.45)"/>
<rect x="28.5" y="306.5" width="825.0" height="16" fill="none" stroke="#a6a6a6" stroke-width="1"/>
<rect x="41.5" y="322.5" width="553.0" height="16" fill="#efefef" stroke="none"/>
<rect x="41.5" y="322.5" width="553.0" height="16" fill="none" stroke="#a6a6a6" stroke-width="1"/>
<rect x="41.5" y="338.5" width="553.0" height="16" fill="#efefef" stroke="none"/>
<rect x="41.5" y="338.5" width="553.0" height="16" fill="none" stroke="#a6a6a6" stroke-width="1"/>
<rect x="52.5" y="354.5" width="543.0" height="16" fill="#efefef" stroke="none"/>
<rect x="52.5" y="354.5" width="543.0" height="16" fill="none" stroke="#a6a6a6" stroke-width="1"/>
<rect x="66.5" y="370.5" width="529.0" height="16" fill="#efefef" stroke="none"/>
<rect x="66.5" y="370.5" width="529.0" height="16" fill="none" stroke="#a6a6a6" stroke-width="1"/>
<rect x="90.5" y="386.5" width="29.0" height="16" fill="#efefef" stroke="none"/>
<rect x="90.5" y="386.5" width="29.0" height="16" fill="none" stroke="#a6a6a6" stroke-width="1"/>
<rect x="115.5" y="402.5" width="166.0" height="16" fill="#efefef" stroke="none"/>
<rect x="115.5" y="402.5" width="166.0" height="16" fill="none" stroke="#a6a6a6" stroke-width="1"/>
<rect x="116.5" y="418.5" width="110.0" height="16" fill="#efefef" stroke="none"/>
<rect x="116.5" y="418.5" width="110.0" height="16" fill="none" stroke="#a6a6a6" stroke-width="1"/>
<rect x="123.5" y="434.5" width="103.0" height="16" fill="#efefef" stroke="none"/>
<rect x="221.0" y="434.5" width="5.5" height="16" fill="rgba(98,136,178,1.000)"/>
<rect x="123.5" y="434.5" width="103.0" height="16" fill="none" stroke="#a6a6a6" stroke-width="1"/>
<rect x="223.5" y="450.5" width="58.0" height="16" fill="#efefef" stroke="none"/>
<rect x="232.0" y="450.5" width="6.0" height="16" fill="rgba(98,136,178,0.100)"/>
<rect x="238.0" y="450.5" width="6.0" height="16" fill="rgba(194,122,122,0.25)"/>
<rect x="244.0" y="450.5" width="5.0" height="16" fill="rgba(98,136,178,0.050)"/>
<rect x="249.0" y="450.5" width="5.0" height="16" fill="rgba(194,122,122,0.25)"/>
<rect x="254.0" y="450.5" width="6.0" height="16" fill="rgba(98,136,178,0.120)"/>
<rect x="260.0" y="450.5" width="5.0" height="16" fill="rgba(194,122,122,0.25)"/>
<rect x="265.0" y="450.5" width="6.0" height="16" fill="rgba(98,136,178,0.100)"/>
<rect x="271.0" y="450.5" width="5.0" height="16" fill="rgba(98,136,178,0.030)"/>
<rect x="223.5" y="450.5" width="58.0" height="16" fill="none" stroke="#a6a6a6" stroke-width="1"/>
<rect x="280.5" y="466.5" width="39.0" height="16" fill="#efefef" stroke="none"/>
<rect x="280.5" y="466.5" width="39.0" height="16" fill="none" stroke="#a6a6a6" stroke-width="1"/>
<rect x="292.5" y="482.5" width="27.0" height="16" fill="#efefef" stroke="none"/>
<rect x="303.0" y="482.5" width="6.0" height="16" fill="rgba(98,136,178,0.090)"/>
<rect x="309.0" y="482.5" width="6.0" height="16" fill="rgba(98,136,178,0.320)"/>
<rect x="315.0" y="482.5" width="4.5" height="16" fill="rgba(98,136,178,0.470)"/>
<rect x="292.5" y="482.5" width="27.0" height="16" fill="none" stroke="#a6a6a6" stroke-width="1"/>
<rect x="332.5" y="498.5" width="59.0" height="16" fill="#efefef" stroke="none"/>
<rect x="332.5" y="498.5" width="59.0" height="16" fill="none" stroke="#a6a6a6" stroke-width="1"/>
<rect x="335.5" y="514.5" width="28.0" height="16" fill="#efefef" stroke="none"/>
<rect x="335.5" y="514.5" width="28.0" height="16" fill="none" stroke="#a6a6a6" stroke-width="1"/>
<rect x="335.5" y="530.5" width="23.0" height="16" fill="#efefef" stroke="none"/>
<rect x="348.0" y="530.5" width="10.5" height="16" fill="rgba(194,122,122,0.25)"/>
<rect x="335.5" y="530.5" width="23.0" height="16" fill="none" stroke="#a6a6a6" stroke-width="1"/>
<rect x="335.5" y="546.5" width="28.0" height="16" fill="#efefef" stroke="none"/>
<rect x="335.5" y="546.5" width="28.0" height="16" fill="none" stroke="#a6a6a6" stroke-width="1"/>
<rect x="360.5" y="562.5" width="14.0" height="16" fill="#efefef" stroke="none"/>
<rect x="369.0" y="562.5" width="5.5" height="16" fill="rgba(194,122,122,0.25)"/>
<rect x="360.5" y="562.5" width="14.0" height="16" fill="none" stroke="#a6a6a6" stroke-width="1"/>
<rect x="332.5" y="578.5" width="158.0" height="16" fill="#efefef" stroke="none"/>
<rect x="332.5" y="578.5" width="158.0" height="16" fill="none" stroke="#a6a6a6" stroke-width="1"/>
<rect x="333.5" y="594.5" width="135.0" height="16" fill="#efefef" stroke="none"/>
<rect x="333.5" y="594.5" width="135.0" height="16" fill="none" stroke="#a6a6a6" stroke-width="1"/>
<rect x="337.5" y="610.5" width="131.0" height="16" fill="#efefef" stroke="none"/>
<rect x="337.5" y="610.5" width="131.0" height="16" fill="none" stroke="#a6a6a6" stroke-width="1"/>
<rect x="345.5" y="626.5" width="123.0" height="16" fill="#efefef" stroke="none"/>
<rect x="353.0" y="626.5" width="33.0" height="16" fill="rgba(194,122,122,0.25)"/>
<rect x="386.0" y="626.5" width="6.0" height="16" fill="rgba(98,136,178,0.060)"/>
<rect x="392.0" y="626.5" width="71.0" height="16" fill="rgba(98,136,178,1.000)"/>
<rect x="463.0" y="626.5" width="5.5" height="16" fill="rgba(98,136,178,0.750)"/>
<rect x="345.5" y="626.5" width="123.0" height="16" fill="none" stroke="#a6a6a6" stroke-width="1"/>
<rect x="464.5" y="642.5" width="26.0" height="16" fill="#efefef" stroke="none"/>
<rect x="464.5" y="642.5" width="26.0" height="16" fill="none" stroke="#a6a6a6" stroke-width="1"/>
<rect x="489.5" y="658.5" width="94.0" height="16" fill="#efefef" stroke="none"/>
<rect x="489.5" y="658.5" width="94.0" height="16" fill="none" stroke="#a6a6a6" stroke-width="1"/>
<rect x="491.5" y="674.5" width="92.0" height="16" fill="#efefef" stroke="none"/>
<rect x="491.5" y="674.5" width="92.0" height="16" fill="none" stroke="#a6a6a6" stroke-width="1"/>
<rect x="494.5" y="690.5" width="89.0" height="16" fill="#efefef" stroke="none"/>
<rect x="494.5" y="690.5" width="89.0" height="16" fill="none" stroke="#a6a6a6" stroke-width="1"/>
<rect x="494.5" y="706.5" width="89.0" height="16" fill="#efefef" stroke="none"/>
<rect x="494.5" y="706.5" width="89.0" height="16" fill="none" stroke="#a6a6a6" stroke-width="1"/>
<rect x="499.5" y="722.5" width="30.0" height="16" fill="#efefef" stroke="none"/>
<rect x="499.5" y="722.5" width="30.0" height="16" fill="none" stroke="#a6a6a6" stroke-width="1"/>
<rect x="499.5" y="738.5" width="29.0" height="16" fill="#efefef" stroke="none"/>
<rect x="499.5" y="738.5" width="29.0" height="16" fill="none" stroke="#a6a6a6" stroke-width="1"/>
<rect x="369.5" y="754.5" width="215.0" height="16" fill="#efefef" stroke="none"/>
<rect x="369.5" y="754.5" width="215.0" height="16" fill="none" stroke="#a6a6a6" stroke-width="1"/>
<rect x="369.5" y="770.5" width="132.0" height="16" fill="#efefef" stroke="none"/>
<rect x="369.5" y="770.5" width="132.0" height="16" fill="none" stroke="#a6a6a6" stroke-width="1"/>
<rect x="495.5" y="786.5" width="88.0" height="16" fill="#efefef" stroke="none"/>
<rect x="495.5" y="786.5" width="88.0" height="16" fill="none" stroke="#a6a6a6" stroke-width="1"/>
<rect x="590.5" y="802.5" width="125.0" height="16" fill="#efefef" stroke="none"/>
<rect x="590.5" y="802.5" width="125.0" height="16" fill="none" stroke="#a6a6a6" stroke-width="1"/>
<rect x="593.5" y="818.5" width="29.0" height="16" fill="#efefef" stroke="none"/>
<rect x="593.5" y="818.5" width="29.0" height="16" fill="none" stroke="#a6a6a6" stroke-width="1"/>
<rect x="594.5" y="834.5" width="28.0" height="16" fill="#efefef" stroke="none"/>
<rect x="594.5" y="834.5" width="28.0" height="16" fill="none" stroke="#a6a6a6" stroke-width="1"/>
<rect x="619.5" y="850.5" width="14.0" height="16" fill="#efefef" stroke="none"/>
<rect x="619.5" y="850.5" width="14.0" height="16" fill="none" stroke="#a6a6a6" stroke-width="1"/>
<rect x="620.5" y="866.5" width="13.0" height="16" fill="#efefef" stroke="none"/>
<rect x="620.5" y="866.5" width="13.0" height="16" fill="none" stroke="#a6a6a6" stroke-width="1"/>
<rect x="619.5" y="882.5" width="30.0" height="16" fill="#efefef" stroke="none"/>
<rect x="619.5" y="882.5" width="30.0" height="16" fill="none" stroke="#a6a6a6" stroke-width="1"/>
<rect x="624.5" y="898.5" width="25.0" height="16" fill="#efefef" stroke="none"/>
<rect x="639.0" y="898.5" width="6.0" height="16" fill="rgba(98,136,178,0.040)"/>
<rect x="645.0" y="898.5" width="4.5" height="16" fill="rgba(98,136,178,0.170)"/>
<rect x="624.5" y="898.5" width="25.0" height="16" fill="none" stroke="#a6a6a6" stroke-width="1"/>
<rect x="645.5" y="914.5" width="26.0" height="16" fill="#efefef" stroke="none"/>
<rect x="645.5" y="914.5" width="26.0" height="16" fill="none" stroke="#a6a6a6" stroke-width="1"/>
<rect x="646.5" y="930.5" width="25.0" height="16" fill="#efefef" stroke="none"/>
<rect x="646.5" y="930.5" width="25.0" height="16" fill="none" stroke="#a6a6a6" stroke-width="1"/>
<rect x="673.5" y="946.5" width="21.0" height="16" fill="#efefef" stroke="none"/>
<rect x="673.5" y="946.5" width="21.0" height="16" fill="none" stroke="#a6a6a6" stroke-width="1"/>
<rect x="675.5" y="962.5" width="13.0" height="16" fill="#efefef" stroke="none"/>
<rect x="683.0" y="962.5" width="5.5" height="16" fill="rgba(194,122,122,0.25)"/>
<rect x="675.5" y="962.5" width="13.0" height="16" fill="none" stroke="#a6a6a6" stroke-width="1"/>
<rect x="673.5" y="978.5" width="26.0" height="16" fill="#efefef" stroke="none"/>
<rect x="673.5" y="978.5" width="26.0" height="16" fill="none" stroke="#a6a6a6" stroke-width="1"/>
<rect x="677.5" y="994.5" width="16.0" height="16" fill="#efefef" stroke="none"/>
<rect x="688.0" y="994.5" width="5.5" height="16" fill="rgba(194,122,122,0.25)"/>
<rect x="677.5" y="994.5" width="16.0" height="16" fill="none" stroke="#a6a6a6" stroke-width="1"/>
<rect x="673.5" y="1010.5" width="43.0" height="16" fill="#efefef" stroke="none"/>
<rect x="673.5" y="1010.5" width="43.0" height="16" fill="none" stroke="#a6a6a6" stroke-width="1"/>
<rect x="676.5" y="1026.5" width="40.0" height="16" fill="#efefef" stroke="none"/>
<rect x="676.5" y="1026.5" width="40.0" height="16" fill="none" stroke="#a6a6a6" stroke-width="1"/>
<rect x="692.5" y="1042.5" width="24.0" height="16" fill="#efefef" stroke="none"/>
<rect x="699.0" y="1042.5" width="17.5" height="16" fill="rgba(194,122,122,0.25)"/>
<rect x="692.5" y="1042.5" width="24.0" height="16" fill="none" stroke="#a6a6a6" stroke-width="1"/>
<rect x="673.5" y="1058.5" width="32.0" height="16" fill="#efefef" stroke="none"/>
<rect x="673.5" y="1058.5" width="32.0" height="16" fill="none" stroke="#a6a6a6" stroke-width="1"/>
<rect x="676.5" y="1074.5" width="18.0" height="16" fill="#efefef" stroke="none"/>
<rect x="676.5" y="1074.5" width="18.0" height="16" fill="none" stroke="#a6a6a6" stroke-width="1"/>
<rect x="676.5" y="1090.5" width="18.0" height="16" fill="#efefef" stroke="none"/>
<rect x="688.0" y="1090.5" width="6.5" height="16" fill="rgba(194,122,122,0.25)"/>
<rect x="676.5" y="1090.5" width="18.0" height="16" fill="none" stroke="#a6a6a6" stroke-width="1"/>
<rect x="676.5" y="1106.5" width="18.0" height="16" fill="#efefef" stroke="none"/>
<rect x="676.5" y="1106.5" width="18.0" height="16" fill="none" stroke="#a6a6a6" stroke-width="1"/>
<rect x="690.5" y="1122.5" width="15.0" height="16" fill="#efefef" stroke="none"/>
<rect x="699.0" y="1122.5" width="6.5" height="16" fill="rgba(194,122,122,0.25)"/>
<rect x="690.5" y="1122.5" width="15.0" height="16" fill="none" stroke="#a6a6a6" stroke-width="1"/>
<rect x="645.5" y="1138.5" width="208.0" height="16" fill="#efefef" stroke="none"/>
<rect x="645.5" y="1138.5" width="208.0" height="16" fill="none" stroke="#a6a6a6" stroke-width="1"/>
<rect x="646.5" y="1154.5" width="207.0" height="16" fill="#efefef" stroke="none"/>
<rect x="655.0" y="1154.5" width="6.0" height="16" fill="rgba(194,122,122,0.25)"/>
<rect x="667.0" y="1154.5" width="49.0" height="16" fill="rgba(194,122,122,0.25)"/>
<rect x="722.0" y="1154.5" width="5.0" height="16" fill="rgba(194,122,122,0.25)"/>
<rect x="646.5" y="1154.5" width="207.0" height="16" fill="none" stroke="#a6a6a6" stroke-width="1"/>
<rect x="723.5" y="1170.5" width="15.0" height="16" fill="#efefef" stroke="none"/>
<rect x="723.5" y="1170.5" width="15.0" height="16" fill="none" stroke="#a6a6a6" stroke-width="1"/>
<rect x="723.5" y="1186.5" width="15.0" height="16" fill="#efefef" stroke="none"/>
<rect x="732.0" y="1186.5" width="6.5" height="16" fill="rgba(194,122,122,0.25)"/>
<rect x="723.5" y="1186.5" width="15.0" height="16" fill="none" stroke="#a6a6a6" stroke-width="1"/>
<text x="431.70" y="303.90" font-family='"Liberation Sans", sans-serif' font-size="12.2" font-weight="normal" fill="#424242" text-anchor="middle" textLength="16.50" lengthAdjust="spacingAndGlyphs" xml:space="preserve">init</text>
<text x="440.20" y="319.90" font-family='"Liberation Sans", sans-serif' font-size="12.2" font-weight="normal" fill="#424242" text-anchor="middle" textLength="55.25" lengthAdjust="spacingAndGlyphs" xml:space="preserve">kjournald</text>
<text x="317.20" y="335.90" font-family='"Liberation Sans", sans-serif' font-size="12.2" font-weight="normal" fill="#424242" text-anchor="middle" textLength="16.50" lengthAdjust="spacingAndGlyphs" xml:space="preserve">init</text>
<text x="317.20" y="351.90" font-family='"Liberation Sans", sans-serif' font-size="12.2" font-weight="normal" fill="#424242" text-anchor="middle" textLength="17.00" lengthAdjust="spacingAndGlyphs" xml:space="preserve">rcS</text>
<text x="323.20" y="367.90" font-family='"Liberation Sans", sans-serif' font-size="12.2" font-weight="normal" fill="#424242" text-anchor="middle" textLength="12.70" lengthAdjust="spacingAndGlyphs" xml:space="preserve">sh</text>
<text x="330.20" y="383.90" font-family='"Liberation Sans", sans-serif' font-size="12.2" font-weight="normal" fill="#424242" text-anchor="middle" textLength="45.00" lengthAdjust="spacingAndGlyphs" xml:space="preserve">hwclock</text>
<text x="124.30" y="399.90" font-family='"Liberation Sans", sans-serif' font-size="12.2" font-weight="normal" fill="#424242" text-anchor="start" textLength="26.50" lengthAdjust="spacingAndGlyphs" xml:space="preserve">grep</text>
<text x="197.70" y="415.90" font-family='"Liberation Sans", sans-serif' font-size="12.2" font-weight="normal" fill="#424242" text-anchor="middle" textLength="72.00" lengthAdjust="spacingAndGlyphs" xml:space="preserve">S02modutils</text>
<text x="170.70" y="431.90" font-family='"Liberation Sans", sans-serif' font-size="12.2" font-weight="normal" fill="#424242" text-anchor="middle" textLength="72.00" lengthAdjust="spacingAndGlyphs" xml:space="preserve">S02modutils</text>
<text x="231.30" y="447.90" font-family='"Liberation Sans", sans-serif' font-size="12.2" font-weight="normal" fill="#424242" text-anchor="start" textLength="104.80" lengthAdjust="spacingAndGlyphs" xml:space="preserve">modprobe.moduti</text>
<text x="286.30" y="463.90" font-family='"Liberation Sans", sans-serif' font-size="12.2" font-weight="normal" fill="#424242" text-anchor="start" textLength="104.80" lengthAdjust="spacingAndGlyphs" xml:space="preserve">modprobe.moduti</text>
<text x="323.30" y="479.90" font-family='"Liberation Sans", sans-serif' font-size="12.2" font-weight="normal" fill="#424242" text-anchor="start" textLength="42.00" lengthAdjust="spacingAndGlyphs" xml:space="preserve">S03lvm</text>
<text x="324.30" y="495.90" font-family='"Liberation Sans", sans-serif' font-size="12.2" font-weight="normal" fill="#424242" text-anchor="start" textLength="39.00" lengthAdjust="spacingAndGlyphs" xml:space="preserve">vgscan</text>
<text x="395.30" y="511.90" font-family='"Liberation Sans", sans-serif' font-size="12.2" font-weight="normal" fill="#424242" text-anchor="start" textLength="71.00" lengthAdjust="spacingAndGlyphs" xml:space="preserve">S07discover</text>
<text x="367.30" y="527.90" font-family='"Liberation Sans", sans-serif' font-size="12.2" font-weight="normal" fill="#424242" text-anchor="start" textLength="71.00" lengthAdjust="spacingAndGlyphs" xml:space="preserve">S07discover</text>
<text x="363.30" y="543.90" font-family='"Liberation Sans", sans-serif' font-size="12.2" font-weight="normal" fill="#424242" text-anchor="start" textLength="46.75" lengthAdjust="spacingAndGlyphs" xml:space="preserve">discover</text>
<text x="367.30" y="559.90" font-family='"Liberation Sans", sans-serif' font-size="12.2" font-weight="normal" fill="#424242" text-anchor="start" textLength="71.00" lengthAdjust="spacingAndGlyphs" xml:space="preserve">S07discover</text>
<text x="379.30" y="575.90" font-family='"Liberation Sans", sans-serif' font-size="12.2" font-weight="normal" fill="#424242" text-anchor="start" textLength="24.00" lengthAdjust="spacingAndGlyphs" xml:space="preserve">sync</text>
<text x="410.70" y="591.90" font-family='"Liberation Sans", sans-serif' font-size="12.2" font-weight="normal" fill="#424242" text-anchor="middle" textLength="66.00" lengthAdjust="spacingAndGlyphs" xml:space="preserve">S07hotplug</text>
<text x="400.20" y="607.90" font-family='"Liberation Sans", sans-serif' font-size="12.2" font-weight="normal" fill="#424242" text-anchor="middle" textLength="32.00" lengthAdjust="spacingAndGlyphs" xml:space="preserve">pci.rc</text>
<text x="402.20" y="623.90" font-family='"Liberation Sans", sans-serif' font-size="12.2" font-weight="normal" fill="#424242" text-anchor="middle" textLength="53.50" lengthAdjust="spacingAndGlyphs" xml:space="preserve">pci.agent</text>
<text x="406.20" y="639.90" font-family='"Liberation Sans", sans-serif' font-size="12.2" font-weight="normal" fill="#424242" text-anchor="middle" textLength="105.30" lengthAdjust="spacingAndGlyphs" xml:space="preserve">modprobe.moduti</text>
<text x="495.30" y="655.90" font-family='"Liberation Sans", sans-serif' font-size="12.2" font-weight="normal" fill="#424242" text-anchor="start" textLength="35.50" lengthAdjust="spacingAndGlyphs" xml:space="preserve">usb.rc</text>
<text x="587.30" y="671.90" font-family='"Liberation Sans", sans-serif' font-size="12.2" font-weight="normal" fill="#424242" text-anchor="start" textLength="85.60" lengthAdjust="spacingAndGlyphs" xml:space="preserve">S08networking</text>
<text x="536.70" y="687.90" font-family='"Liberation Sans", sans-serif' font-size="12.2" font-weight="normal" fill="#424242" text-anchor="middle" textLength="22.50" lengthAdjust="spacingAndGlyphs" xml:space="preserve">ifup</text>
<text x="538.20" y="703.90" font-family='"Liberation Sans", sans-serif' font-size="12.2" font-weight="normal" fill="#424242" text-anchor="middle" textLength="12.70" lengthAdjust="spacingAndGlyphs" xml:space="preserve">sh</text>
<text x="538.20" y="719.90" font-family='"Liberation Sans", sans-serif' font-size="12.2" font-weight="normal" fill="#424242" text-anchor="middle" textLength="44.75" lengthAdjust="spacingAndGlyphs" xml:space="preserve">dhclient</text>
<text x="534.30" y="735.90" font-family='"Liberation Sans", sans-serif' font-size="12.2" font-weight="normal" fill="#424242" text-anchor="start" textLength="83.50" lengthAdjust="spacingAndGlyphs" xml:space="preserve">dhclient-script</text>
<text x="533.30" y="751.90" font-family='"Liberation Sans", sans-serif' font-size="12.2" font-weight="normal" fill="#424242" text-anchor="start" textLength="30.20" lengthAdjust="spacingAndGlyphs" xml:space="preserve">sleep</text>
<text x="476.20" y="767.90" font-family='"Liberation Sans", sans-serif' font-size="12.2" font-weight="normal" fill="#424242" text-anchor="middle" textLength="44.25" lengthAdjust="spacingAndGlyphs" xml:space="preserve">net.ifup</text>
<text x="434.70" y="783.90" font-family='"Liberation Sans", sans-serif' font-size="12.2" font-weight="normal" fill="#424242" text-anchor="middle" textLength="30.70" lengthAdjust="spacingAndGlyphs" xml:space="preserve">sleep</text>
<text x="538.70" y="799.90" font-family='"Liberation Sans", sans-serif' font-size="12.2" font-weight="normal" fill="#424242" text-anchor="middle" textLength="22.50" lengthAdjust="spacingAndGlyphs" xml:space="preserve">ifup</text>
<text x="652.20" y="815.90" font-family='"Liberation Sans", sans-serif' font-size="12.2" font-weight="normal" fill="#424242" text-anchor="middle" textLength="11.00" lengthAdjust="spacingAndGlyphs" xml:space="preserve">rc</text>
<text x="626.30" y="831.90" font-family='"Liberation Sans", sans-serif' font-size="12.2" font-weight="normal" fill="#424242" text-anchor="start" textLength="72.50" lengthAdjust="spacingAndGlyphs" xml:space="preserve">S11portmap</text>
<text x="627.30" y="847.90" font-family='"Liberation Sans", sans-serif' font-size="12.2" font-weight="normal" fill="#424242" text-anchor="start" textLength="30.20" lengthAdjust="spacingAndGlyphs" xml:space="preserve">sleep</text>
<text x="637.30" y="863.90" font-family='"Liberation Sans", sans-serif' font-size="12.2" font-weight="normal" fill="#424242" text-anchor="start" textLength="45.00" lengthAdjust="spacingAndGlyphs" xml:space="preserve">S12fam</text>
<text x="638.30" y="879.90" font-family='"Liberation Sans", sans-serif' font-size="12.2" font-weight="normal" fill="#424242" text-anchor="start" textLength="30.50" lengthAdjust="spacingAndGlyphs" xml:space="preserve">famd</text>
<text x="653.30" y="895.90" font-family='"Liberation Sans", sans-serif' font-size="12.2" font-weight="normal" fill="#424242" text-anchor="start" textLength="49.00" lengthAdjust="spacingAndGlyphs" xml:space="preserve">S12gdm</text>
<text x="654.30" y="911.90" font-family='"Liberation Sans", sans-serif' font-size="12.2" font-weight="normal" fill="#424242" text-anchor="start" textLength="25.30" lengthAdjust="spacingAndGlyphs" xml:space="preserve">gdm</text>
<text x="675.30" y="927.90" font-family='"Liberation Sans", sans-serif' font-size="12.2" font-weight="normal" fill="#424242" text-anchor="start" textLength="67.75" lengthAdjust="spacingAndGlyphs" xml:space="preserve">S13ntpdate</text>
<text x="676.30" y="943.90" font-family='"Liberation Sans", sans-serif' font-size="12.2" font-weight="normal" fill="#424242" text-anchor="start" textLength="44.75" lengthAdjust="spacingAndGlyphs" xml:space="preserve">ntpdate</text>
<text x="698.30" y="959.90" font-family='"Liberation Sans", sans-serif' font-size="12.2" font-weight="normal" fill="#424242" text-anchor="start" textLength="66.50" lengthAdjust="spacingAndGlyphs" xml:space="preserve">S17dbus-1</text>
<text x="693.30" y="975.90" font-family='"Liberation Sans", sans-serif' font-size="12.2" font-weight="normal" fill="#424242" text-anchor="start" textLength="96.75" lengthAdjust="spacingAndGlyphs" xml:space="preserve">dbus-daemon-1</text>
<text x="703.30" y="991.90" font-family='"Liberation Sans", sans-serif' font-size="12.2" font-weight="normal" fill="#424242" text-anchor="start" textLength="69.00" lengthAdjust="spacingAndGlyphs" xml:space="preserve">S17dirmngr</text>
<text x="698.30" y="1007.90" font-family='"Liberation Sans", sans-serif' font-size="12.2" font-weight="normal" fill="#424242" text-anchor="start" textLength="44.75" lengthAdjust="spacingAndGlyphs" xml:space="preserve">dirmngr</text>
<text x="720.30" y="1023.90" font-family='"Liberation Sans", sans-serif' font-size="12.2" font-weight="normal" fill="#424242" text-anchor="start" textLength="58.75" lengthAdjust="spacingAndGlyphs" xml:space="preserve">S17exim4</text>
<text x="721.30" y="1039.90" font-family='"Liberation Sans", sans-serif' font-size="12.2" font-weight="normal" fill="#424242" text-anchor="start" textLength="100.00" lengthAdjust="spacingAndGlyphs" xml:space="preserve">update-exim4.co</text>
<text x="721.30" y="1055.90" font-family='"Liberation Sans", sans-serif' font-size="12.2" font-weight="normal" fill="#424242" text-anchor="start" textLength="35.00" lengthAdjust="spacingAndGlyphs" xml:space="preserve">exim4</text>
<text x="709.30" y="1071.90" font-family='"Liberation Sans", sans-serif' font-size="12.2" font-weight="normal" fill="#424242" text-anchor="start" textLength="42.00" lengthAdjust="spacingAndGlyphs" xml:space="preserve">S17ssh</text>
<text x="698.30" y="1087.90" font-family='"Liberation Sans", sans-serif' font-size="12.2" font-weight="normal" fill="#424242" text-anchor="start" textLength="42.00" lengthAdjust="spacingAndGlyphs" xml:space="preserve">S17ssh</text>
<text x="699.30" y="1103.90" font-family='"Liberation Sans", sans-serif' font-size="12.2" font-weight="normal" fill="#424242" text-anchor="start" textLength="26.75" lengthAdjust="spacingAndGlyphs" xml:space="preserve">sshd</text>
<text x="699.30" y="1119.90" font-family='"Liberation Sans", sans-serif' font-size="12.2" font-weight="normal" fill="#424242" text-anchor="start" textLength="26.50" lengthAdjust="spacingAndGlyphs" xml:space="preserve">grep</text>
<text x="710.30" y="1135.90" font-family='"Liberation Sans", sans-serif' font-size="12.2" font-weight="normal" fill="#424242" text-anchor="start" textLength="26.75" lengthAdjust="spacingAndGlyphs" xml:space="preserve">sshd</text>
<text x="748.70" y="1151.90" font-family='"Liberation Sans", sans-serif' font-size="12.2" font-weight="normal" fill="#424242" text-anchor="middle" textLength="25.80" lengthAdjust="spacingAndGlyphs" xml:space="preserve">gdm</text>
<text x="749.20" y="1167.90" font-family='"Liberation Sans", sans-serif' font-size="12.2" font-weight="normal" fill="#424242" text-anchor="middle" textLength="49.80" lengthAdjust="spacingAndGlyphs" xml:space="preserve">XFree86</text>
<text x="743.30" y="1183.90" font-family='"Liberation Sans", sans-serif' font-size="12.2" font-weight="normal" fill="#424242" text-anchor="start" textLength="12.20" lengthAdjust="spacingAndGlyphs" xml:space="preserve">sh</text>
<text x="743.30" y="1199.90" font-family='"Liberation Sans", sans-serif' font-size="12.2" font-weight="normal" fill="#424242" text-anchor="start" textLength="53.30" lengthAdjust="spacingAndGlyphs" xml:space="preserve">xkbcomp</text>
</svg>
</body></html>
